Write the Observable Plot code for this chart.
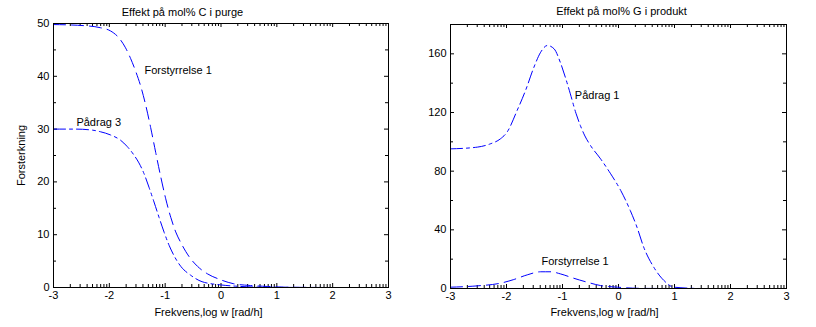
<!DOCTYPE html>
<html><head><meta charset="utf-8">
<script src="https://cdn.jsdelivr.net/npm/d3@7"></script>
<script src="https://cdn.jsdelivr.net/npm/@observablehq/plot@0.6"></script>
<style>
body{margin:0;background:#fff}
#c{position:relative;width:816px;height:327px;display:flex}
#c svg{display:block}
</style>
</head><body><div id="c"></div>
<script>
// ---- data ----
const xMajor = [-3, -2, -1, 0, 1, 2, 3];
const logMinorFactors = [2, 3, 4, 5, 6, 7, 8, 9];

// Left panel: Effekt på mol% C i purge
const leftYMajor = [0, 10, 20, 30, 40, 50];
const leftYMinor = [5, 15, 25, 35, 45];
const leftF1x = [-3, -2.46, -2.16, -1.98, -1.83, -1.71, -1.62, -1.53, -1.44, -1.35, -1.26, -1.17, -1.08, -0.99, -0.90, -0.81, -0.72, -0.575, -0.42, -0.245, -0.04, 0.23, 0.5, 0.83, 1.2, 2, 3];
const leftF1y = [49.8, 49.6, 49.2, 48.6, 47.3, 45.4, 43.4, 41.0, 38.2, 34.6, 30.3, 25.6, 21.0, 16.8, 13.3, 10.5, 8.5, 5.9, 4.0, 2.6, 1.6, 0.7, 0.4, 0.2, 0.05, 0, 0];
const leftP3x = [-3, -2.6, -2.3, -2.16, -1.98, -1.8, -1.68, -1.56, -1.47, -1.38, -1.29, -1.2, -1.11, -1.02, -0.93, -0.84, -0.72, -0.54, -0.34, -0.01, 0.35, 0.8, 2, 3];
const leftP3y = [30, 30, 29.8, 29.5, 28.9, 27.9, 26.7, 25.1, 23.6, 21.6, 19.0, 16.2, 13.3, 10.5, 8.0, 6.0, 4.0, 2.3, 1.1, 0.5, 0.2, 0.05, 0, 0];

// Right panel: Effekt på mol% G i produkt
const rightYMajor = [0, 40, 80, 120, 160];
const rightYMinor = [20, 60, 100, 140];
const rightP1x = [-3, -2.52, -2.29, -2.11, -1.99, -1.81, -1.66, -1.51, -1.39, -1.27, -1.15, -1.04, -0.95, -0.86, -0.76, -0.68, -0.6, -0.5, -0.32, -0.14, 0.04, 0.21, 0.33, 0.45, 0.63, 0.81, 0.99, 1.5, 3];
const rightP1y = [95.2, 96.4, 98.6, 102, 106.6, 121.4, 135, 150.9, 161.1, 165.7, 163.4, 154.3, 144.1, 132.7, 119.5, 111.0, 104.0, 97.5, 88.4, 78.2, 66.8, 53.2, 41.8, 28.2, 14.5, 5.5, 0.9, 0, 0];
const rightF1x = [-3, -2.52, -2.11, -1.87, -1.63, -1.39, -1.21, -1.04, -0.8, -0.56, -0.32, -0.02, 0.4, 1, 3];
const rightF1y = [0.9, 1.8, 3.6, 6.1, 9.3, 11.4, 11.4, 10.0, 7.0, 4.3, 2.0, 0.9, 0.1, 0, 0];

const titles = ["Effekt på mol% C i purge", "Effekt på mol% G i produkt"];
const xLabel = "Frekvens,log w [rad/h]";
const yLabel = "Forsterkning";

// ---- helpers ----
const xMinor = [];
for (const d of xMajor.slice(0, -1)) for (const k of logMinorFactors) xMinor.push(d + Math.log10(k));
const zip = (xs, ys) => xs.map((x, i) => ({x, y: ys[i]}));
const BLUE = "#0000ff";

function panel(o) {
  const W = 408, H = 327;
  const fw = W - o.ml - o.mr, fh = H - o.mt - o.mb;
  const major = 4, minor = 3;
  const lineMarks = o.series.map(s => Plot.line(s.data, {x: "x", y: "y", stroke: BLUE, strokeWidth: 1, curve: "monotone-x", strokeDasharray: s.dash}));
  const labelMarks = o.labels.map(l => Plot.text([l], {x: "x", y: "y", text: "t", textAnchor: "start", lineAnchor: "middle", fill: "black"}));
  return Plot.plot({
    width: W, height: H,
    marginLeft: o.ml, marginRight: o.mr, marginTop: o.mt, marginBottom: o.mb,
    style: {fontFamily: "'Liberation Sans', Arial, sans-serif", fontSize: "11px", color: "black", background: "white", overflow: "visible"},
    x: {domain: [-3, 3]},
    y: {domain: o.yDomain},
    marks: [
      Plot.axisX({ticks: xMajor, tickSize: 0, tickPadding: 4, tickFormat: d => String(d), label: null}),
      Plot.axisY({ticks: o.yMajor, tickSize: 0, tickPadding: 4, tickFormat: d => String(d), label: null}),
      Plot.tickX(xMajor, {x: d => d, insetTop: fh - major, stroke: "black"}),
      Plot.tickX(xMajor, {x: d => d, insetBottom: fh - major, stroke: "black"}),
      Plot.tickX(xMinor, {x: d => d, insetTop: fh - minor, stroke: "black"}),
      Plot.tickX(xMinor, {x: d => d, insetBottom: fh - minor, stroke: "black"}),
      Plot.tickY(o.yMajor, {y: d => d, insetRight: fw - major, stroke: "black"}),
      Plot.tickY(o.yMajor, {y: d => d, insetLeft: fw - major, stroke: "black"}),
      Plot.tickY(o.yMinor, {y: d => d, insetRight: fw - minor, stroke: "black"}),
      Plot.tickY(o.yMinor, {y: d => d, insetLeft: fw - minor, stroke: "black"}),
      ...lineMarks,
      ...labelMarks,
      Plot.frame({stroke: "black"}),
      Plot.text([o.title], {frameAnchor: "top-left", dx: o.titleCx - o.ml, dy: o.titleCy - o.mt, textAnchor: "middle", lineAnchor: "middle", fill: "black"}),
      Plot.text([xLabel], {frameAnchor: "bottom-left", dx: o.xlabCx - o.ml, dy: o.xlabCy - (H - o.mb), textAnchor: "middle", lineAnchor: "middle", fill: "black"}),
      ...(o.ylab ? [Plot.text([yLabel], {frameAnchor: "left", dx: o.ylabCx - o.ml, dy: 0, rotate: -90, textAnchor: "middle", lineAnchor: "middle", fill: "black"})] : [])
    ]
  });
}

const left = panel({
  ml: 53, mr: 20, mt: 23, mb: 40,
  yDomain: [0, 50], yMajor: leftYMajor, yMinor: leftYMinor,
  series: [
    {data: zip(leftF1x, leftF1y), dash: "12,6"},
    {data: zip(leftP3x, leftP3y), dash: "12,4,3,4"}
  ],
  labels: [
    {x: -1.37, y: 41.1, t: "Forstyrrelse 1"},
    {x: -2.59, y: 31.3, t: "Pådrag 3"}
  ],
  title: titles[0], titleCx: 182, titleCy: 12,
  xlabCx: 208, xlabCy: 312,
  ylab: true, ylabCx: 21
});
const right = panel({
  ml: 42, mr: 30, mt: 24, mb: 39,
  yDomain: [0, 180], yMajor: rightYMajor, yMinor: rightYMinor,
  series: [
    {data: zip(rightP1x, rightP1y), dash: "12,4,3,4"},
    {data: zip(rightF1x, rightF1y), dash: "12,6"}
  ],
  labels: [
    {x: -0.78, y: 131.6, t: "Pådrag 1"},
    {x: -1.375, y: 18.4, t: "Forstyrrelse 1"}
  ],
  title: titles[1], titleCx: 621 - 408, titleCy: 11,
  xlabCx: 604 - 408, xlabCy: 312,
  ylab: false
});
document.getElementById("c").append(left, right);
</script></body></html>
